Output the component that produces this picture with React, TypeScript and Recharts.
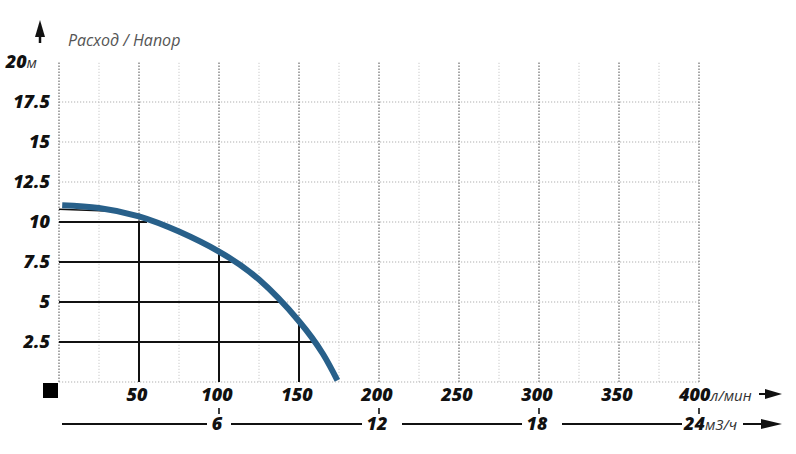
import React from "react";
import { ComposedChart, Line, XAxis, YAxis, ReferenceLine } from "recharts";

const flowTicks = [50, 100, 150, 200, 250, 300, 350, 400];
const headTicks = [2.5, 5, 7.5, 10, 12.5, 15, 17.5, 20];
const majorGridX = [0, 50, 100, 150, 200, 250, 300, 350, 400];
const minorGridX = [25, 75, 125, 175, 225, 275, 325, 375];
const gridY = [0, 2.5, 5, 7.5, 10, 12.5, 15, 17.5];

const curveFlow = [2, 25, 50, 75, 100, 125, 150, 165, 174];
const curveHead = [11.05, 10.88, 10.35, 9.4, 8.15, 6.4, 3.8, 1.75, 0.1];

// black helper lines: horizontal [head, flow end], vertical [flow, head end]
const hGuides = [
  [10, 55],
  [7.5, 108],
  [5, 139],
  [2.5, 160],
];
const vGuides = [
  [50, 10.1],
  [100, 8.1],
  [150, 3.6],
];
const topGuide = [
  [0, 10.8],
  [30, 10.68],
];

const m3PerFlow = 6 / 100; // 100 л/мин = 6 м3/ч
const m3Ticks = [6, 12, 18, 24];

const data = curveFlow.map((f, i) => ({ flow: f, head: curveHead[i] }));

const FONT = "'Open Sans', 'DejaVu Sans', sans-serif";

const XTick = (props: any) => {
  const { x, y, payload } = props;
  const v = payload.value;
  const isLast = v === flowTicks[flowTicks.length - 1];
  const major = v % 100 === 0;
  const m3 = Math.round(v * m3PerFlow);
  return (
    <g>
      <text
        x={x - 2}
        y={y + 19}
        textAnchor={isLast ? "start" : "middle"}
        dx={isLast ? -18 : 0}
        fontFamily={FONT}
        fontStyle="italic"
        fontWeight={800}
        fontSize={18}
        fill="#111"
      >
        {v}
        {isLast && (
          <tspan fontWeight={400} fontSize={15} fill="#333">
            л/мин
          </tspan>
        )}
      </text>
      {isLast && (
        <g>
          <line x1={x + 60} x2={x + 70} y1={y + 12} y2={y + 12} stroke="#111" strokeWidth={2} />
          <polygon points={`${x + 66},${y + 7} ${x + 83},${y + 12} ${x + 66},${y + 17}`} fill="#111" />
        </g>
      )}
      {major && (
        <g>
          <line x1={x} x2={x} y1={y + 26} y2={y + 32} stroke="#111" strokeWidth={1.6} />
          <text
            x={x - 2}
            y={y + 48}
            textAnchor={isLast ? "start" : "middle"}
            dx={isLast ? -13 : 0}
            fontFamily={FONT}
            fontStyle="italic"
            fontWeight={800}
            fontSize={18}
            fill="#111"
          >
            {m3}
            {isLast && (
              <tspan fontWeight={400} fontSize={15} fill="#333">
                м3/ч
              </tspan>
            )}
          </text>
          {isLast && (
            <g>
              <line x1={x + 44} x2={x + 66} y1={y + 42} y2={y + 42} stroke="#111" strokeWidth={2} />
              <polygon points={`${x + 62},${y + 37} ${x + 83},${y + 42} ${x + 62},${y + 47}`} fill="#111" />
            </g>
          )}
        </g>
      )}
    </g>
  );
};

const SecondaryLine = (props: any) => {
  const vb = props.viewBox || { x: 59, y: 382, width: 640 };
  const { x, y, width } = vb;
  const maxM3 = m3Ticks[m3Ticks.length - 1];
  const ly = y + 42;
  const segs: [number, number][] = [];
  let start = x + 3;
  m3Ticks.forEach((t) => {
    const px = x + (width * t) / maxM3;
    const two = String(t).length > 1;
    const left = px - (two ? 17 : 12);
    segs.push([start, left]);
    start = px + (two ? 23 : 12);
  });
  return (
    <g>
      {segs.map(([a, b], i) => (
        <line key={i} x1={a} x2={b} y1={ly} y2={ly} stroke="#111" strokeWidth={2} />
      ))}
    </g>
  );
};

const YTick = (props: any) => {
  const { x, y, payload } = props;
  const v = payload.value;
  const isTop = v === headTicks[headTicks.length - 1];
  return (
    <text
      x={isTop ? x - 22 : x - 9}
      y={y + 6}
      textAnchor="end"
      fontFamily={FONT}
      fontStyle="italic"
      fontWeight={800}
      fontSize={18}
      fill="#111"
    >
      {v}
      {isTop && (
        <tspan fontWeight={400} fontSize={15} fill="#333">
          м
        </tspan>
      )}
    </text>
  );
};

const YDecor = (props: any) => {
  const vb = props.viewBox || { x: 0, y: 62, width: 59, height: 320 };
  const { x, y, width, height } = vb;
  const right = x + width;
  return (
    <g>
      <polygon points={`${right - 19},${y - 42} ${right - 24},${y - 25} ${right - 14},${y - 25}`} fill="#111" />
      <line x1={right - 19} x2={right - 19} y1={y - 28} y2={y - 19} stroke="#111" strokeWidth={2.5} />
      <text
        x={right + 9}
        y={y - 16}
        fontFamily={FONT}
        fontStyle="italic"
        fontWeight={400}
        fontSize={16}
        fill="#555"
      >
        Расход / Напор
      </text>
      <rect x={right - 16} y={y + height + 1} width={15} height={15} fill="#000" />
    </g>
  );
};

export default function App() {
  return (
    <div style={{ position: "absolute", left: 0, top: 0, width: 796, height: 454, background: "#fff" }}>
      <ComposedChart
        width={796}
        height={454}
        data={data}
        margin={{ top: 62, right: 97, left: 0, bottom: 0 }}
      >
        {minorGridX.map((v) => (
          <ReferenceLine key={"mn" + v} x={v} stroke="#d4d4d4" strokeWidth={1.2} strokeDasharray="1.2 1.8" />
        ))}
        {gridY.map((v) => (
          <ReferenceLine key={"gy" + v} y={v} stroke="#b0b0b0" strokeWidth={1.2} strokeDasharray="1.2 1.8" />
        ))}
        {majorGridX.map((v) => (
          <ReferenceLine key={"mj" + v} x={v} stroke="#8a8a8a" strokeWidth={1.5} strokeDasharray="1.5 1.5" />
        ))}
        {hGuides.map(([h, f]) => (
          <ReferenceLine
            key={"hg" + h}
            segment={[
              { x: 0, y: h },
              { x: f, y: h },
            ]}
            stroke="#111"
            strokeWidth={2}
          />
        ))}
        {vGuides.map(([f, h]) => (
          <ReferenceLine
            key={"vg" + f}
            segment={[
              { x: f, y: 0 },
              { x: f, y: h },
            ]}
            stroke="#111"
            strokeWidth={2}
          />
        ))}
        <ReferenceLine
          segment={[
            { x: topGuide[0][0], y: topGuide[0][1] },
            { x: topGuide[1][0], y: topGuide[1][1] },
          ]}
          stroke="#111"
          strokeWidth={1.5}
        />
        <XAxis
          dataKey="flow"
          type="number"
          domain={[0, 400]}
          ticks={flowTicks}
          height={72}
          tickLine={false}
          axisLine={false}
          tickSize={0}
          tickMargin={0}
          interval={0}
          tick={XTick}
          label={{ content: SecondaryLine }}
        />
        <YAxis
          type="number"
          domain={[0, 20]}
          ticks={headTicks}
          width={59}
          tickLine={false}
          axisLine={false}
          tickSize={0}
          tickMargin={0}
          interval={0}
          tick={YTick}
          label={{ content: YDecor }}
        />
        <Line
          dataKey="head"
          type="natural"
          stroke="#28608a"
          strokeWidth={6}
          dot={false}
          isAnimationActive={false}
        />
      </ComposedChart>
    </div>
  );
}
